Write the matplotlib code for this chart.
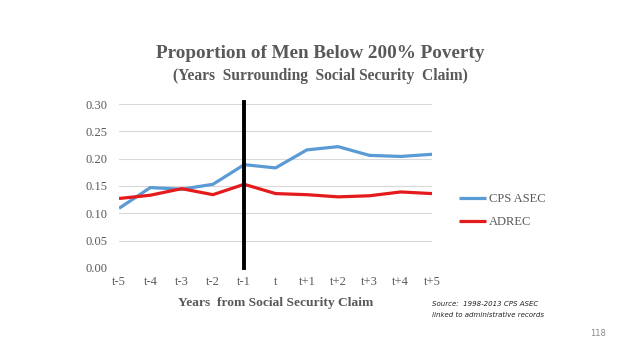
import numpy as np
import matplotlib.pyplot as plt

years = ['t-5', 't-4', 't-3', 't-2', 't-1', 't', 't+1', 't+2', 't+3', 't+4', 't+5']
cps_asec = [0.109, 0.147, 0.144, 0.153, 0.189, 0.183, 0.216, 0.222, 0.206, 0.204, 0.208]
adrec = [0.127, 0.133, 0.145, 0.134, 0.153, 0.136, 0.134, 0.130, 0.132, 0.139, 0.136]
claim_year = 't-1'

plt.rcParams['font.family'] = ['Liberation Serif', 'DejaVu Serif']
gray = '#595959'

fig = plt.figure(figsize=(6.4, 3.6), dpi=100)
ax = fig.add_axes([0.186, 0.256, 0.489, 0.455])

x = np.arange(len(years))
ax.plot(x, cps_asec, color='#5B9BD5', lw=2.3, label='CPS ASEC', solid_capstyle='butt')
ax.plot(x, adrec, color='#E41A1C', lw=2.3, label='ADREC', solid_capstyle='butt')
ax.plot([years.index(claim_year)] * 2, [0, 0.303], color='black', lw=2.8, clip_on=False)

ax.set_xlim(0, len(years) - 1)
ax.set_ylim(0, 0.30)
ax.set_yticks(np.arange(0, 0.31, 0.05))
ax.set_yticklabels([f'{v:.2f}' for v in np.arange(0, 0.31, 0.05)])
ax.set_xticks(x)
ax.set_xticklabels(years)
ax.grid(axis='y', color='#d9d9d9', lw=0.8)
ax.set_axisbelow(True)
for s in ax.spines.values():
    s.set_visible(False)
ax.tick_params(length=0, labelsize=9, labelcolor=gray, pad=6)
ax.tick_params(axis='y', pad=8)

ax.set_xlabel('Years  from Social Security Claim', fontsize=9.7, fontweight='bold',
              color=gray, labelpad=6)

fig.text(0.5, 0.852, 'Proportion of Men Below 200% Poverty', ha='center', va='center',
         fontsize=13.8, fontweight='bold', color=gray)
fig.text(0.5, 0.79, '(Years  Surrounding  Social Security  Claim)', ha='center', va='center',
         fontsize=11.2, fontweight='bold', color=gray)

ax.legend(loc='center left', bbox_to_anchor=(1.05, 0.35), frameon=False, fontsize=9,
          handlelength=2.2, handletextpad=0.2, labelspacing=0.9, labelcolor=gray)

fig.text(0.675, 0.165, 'Source:  1998-2013 CPS ASEC\nlinked to administrative records',
         ha='left', va='top', fontsize=5.0, style='italic', color='#222222',
         family='DejaVu Sans', linespacing=2.0)
fig.text(0.935, 0.075, '118', ha='center', va='center', fontsize=6, color='#888888',
         family='DejaVu Sans')

fig.savefig('out.png', dpi=100, facecolor='white')
